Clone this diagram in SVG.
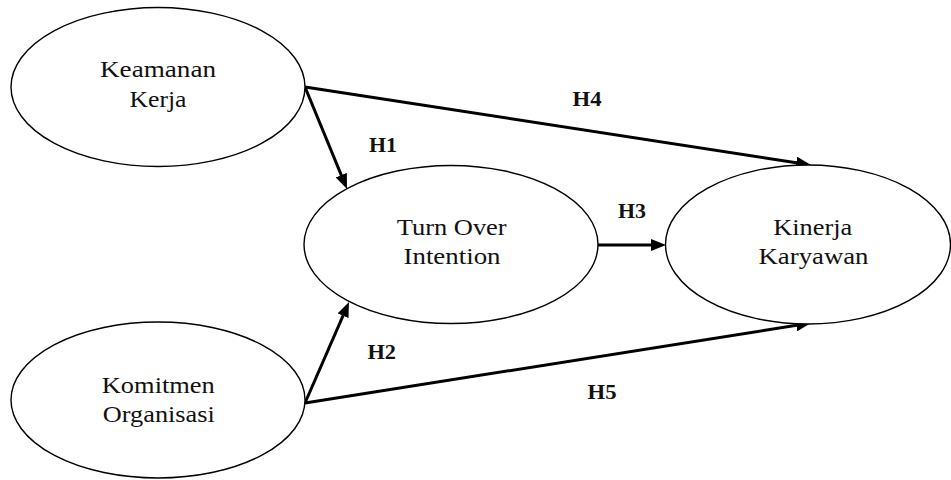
<svg xmlns="http://www.w3.org/2000/svg" width="951" height="480" viewBox="0 0 951 480">
  <style>
    .node ellipse { fill: #ffffff; stroke: #000000; stroke-width: 1.4; }
    .edge { stroke: #000000; stroke-width: 3; fill: none; marker-end: url(#arrow); }
  </style>
  <defs>
    <marker id="arrow" markerUnits="userSpaceOnUse" markerWidth="15" markerHeight="12" refX="10" refY="6" orient="auto">
      <path d="M0,0 L15,6 L0,12 z" fill="#000000"/>
    </marker>
  </defs>
  <rect width="951" height="480" fill="#ffffff"/>

  <!-- hypothesis paths H1..H5 -->
  <g id="connectors">
    <line class="edge" x1="305" y1="87" x2="345.1" y2="184.4"/>
    <line class="edge" x1="305" y1="87" x2="806.1" y2="164.2"/>
    <line class="edge" x1="598" y1="245" x2="661" y2="245"/>
    <line class="edge" x1="305" y1="403" x2="347" y2="306.6"/>
    <line class="edge" x1="305" y1="403" x2="806.1" y2="323.8"/>
    <g font-family="Liberation Serif, serif" font-size="22" font-weight="bold" fill="#111111">
      <text x="369" y="152" textLength="28" lengthAdjust="spacingAndGlyphs">H1</text>
      <text x="367.5" y="359" textLength="28.5" lengthAdjust="spacingAndGlyphs">H2</text>
      <text x="618" y="218" textLength="28" lengthAdjust="spacingAndGlyphs">H3</text>
      <text x="572.5" y="106" textLength="29" lengthAdjust="spacingAndGlyphs">H4</text>
      <text x="587.5" y="399" textLength="29" lengthAdjust="spacingAndGlyphs">H5</text>
    </g>
  </g>

  <!-- latent variables -->
  <g font-family="Liberation Serif, serif" font-size="24" fill="#111111" text-anchor="middle">
    <g id="keamanan-kerja" class="node">
      <ellipse cx="158" cy="87" rx="147" ry="79.5"/>
      <text x="158" y="77" textLength="116" lengthAdjust="spacingAndGlyphs">Keamanan</text>
      <text x="158" y="107" textLength="57" lengthAdjust="spacingAndGlyphs">Kerja</text>
    </g>

    <g id="komitmen-organisasi" class="node">
      <ellipse cx="158" cy="400" rx="147" ry="78"/>
      <text x="158.3" y="393" textLength="113" lengthAdjust="spacingAndGlyphs">Komitmen</text>
      <text x="158.8" y="421.5" textLength="112" lengthAdjust="spacingAndGlyphs">Organisasi</text>
    </g>

    <g id="turn-over-intention" class="node">
      <ellipse cx="451" cy="244.5" rx="147" ry="79"/>
      <text x="451.7" y="235" textLength="110" lengthAdjust="spacingAndGlyphs">Turn Over</text>
      <text x="452" y="264" textLength="97" lengthAdjust="spacingAndGlyphs">Intention</text>
    </g>

    <g id="kinerja-karyawan" class="node">
      <ellipse cx="808" cy="244.5" rx="142.5" ry="79.5"/>
      <text x="812.7" y="235" textLength="79" lengthAdjust="spacingAndGlyphs">Kinerja</text>
      <text x="813.5" y="264" textLength="110" lengthAdjust="spacingAndGlyphs">Karyawan</text>
    </g>
  </g>
</svg>
